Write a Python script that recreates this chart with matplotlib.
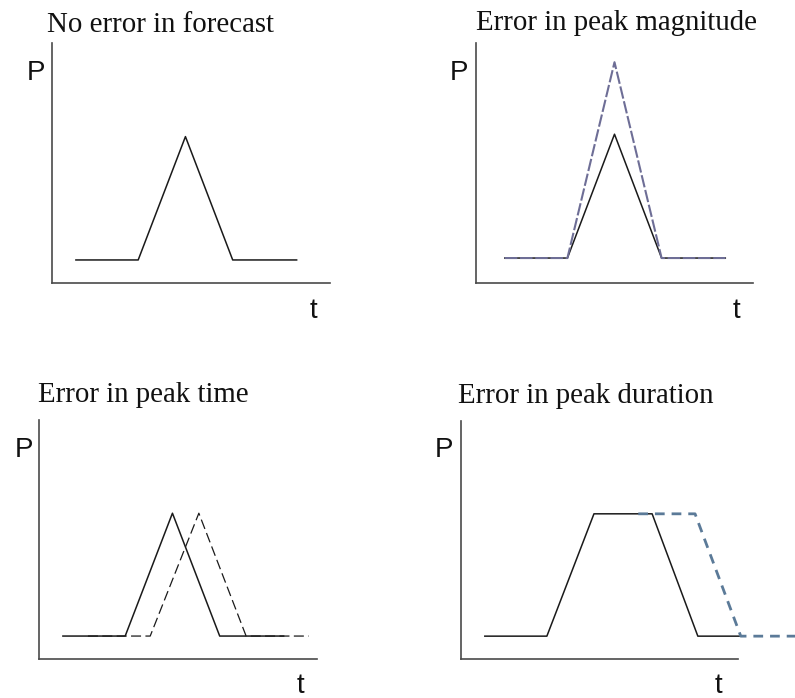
import matplotlib
matplotlib.use("Agg")
import matplotlib.pyplot as plt

# ---- data (arbitrary units, t and P) ----
titles = ["No error in forecast", "Error in peak magnitude",
          "Error in peak time", "Error in peak duration"]

# Panel 1: no error
t1 = [0.86, 3.1, 4.8, 6.5, 8.8]
p1 = [0.96, 0.96, 6.1, 0.96, 0.96]

# Panel 2: peak magnitude
t2 = [1.04, 3.3, 5.0, 6.7, 9.0]
p2_obs = [1.04, 1.04, 6.2, 1.04, 1.04]
p2_fc = [1.04, 1.04, 9.2, 1.04, 1.04]

# Panel 3: peak time
t3_obs = [0.86, 3.1, 4.8, 6.5, 8.8]
p3_obs = [0.96, 0.96, 6.1, 0.96, 0.96]
t3_fc = [1.76, 4.0, 5.75, 7.45, 9.7]
p3_fc = [0.96, 0.96, 6.1, 0.96, 0.96]

# Panel 4: peak duration
t4_obs = [0.86, 3.1, 4.8, 6.9, 8.55, 10.1]
p4_obs = [0.96, 0.96, 6.1, 6.1, 0.96, 0.96]
t4_fc = [6.4, 8.45, 10.1, 12.1]
p4_fc = [6.1, 6.1, 0.96, 0.96]

W, H = 795, 698
fig = plt.figure(figsize=(W / 100, H / 100), dpi=100)


def px_axes(left, bottom, w, h):
    return fig.add_axes([left / W, 1 - bottom / H, w / W, h / H])


def style(ax):
    ax.set_xlim(0, 10)
    ax.set_ylim(0, 10)
    for s in ["top", "right"]:
        ax.spines[s].set_visible(False)
    for s in ["left", "bottom"]:
        ax.spines[s].set_color("#4a4a4a")
        ax.spines[s].set_linewidth(1.2)
    ax.set_xticks([])
    ax.set_yticks([])
    ax.patch.set_alpha(0)


def ftext(x, y, s, **kw):
    fig.text(x / W, 1 - y / H, s, va="baseline", **kw)


serif = dict(family="Liberation Serif", fontsize=20.8, color="#111111")
sans = dict(family="Liberation Sans", fontsize=20, color="#111111")

# Panel 1
ax1 = px_axes(52, 283, 278, 240)
style(ax1)
ax1.plot(t1, p1, color="#1a1a1a", lw=1.1)
ftext(47, 32, titles[0], **serif)
ftext(27, 80, "P", **sans)
ftext(310, 318, "t", **sans)

# Panel 2
ax2 = px_axes(476, 283, 277, 240)
style(ax2)
ax2.plot(t2, p2_obs, color="#1a1a1a", lw=1.1)
ax2.plot(t2, p2_fc, color="#6e6e96", lw=1.5, dashes=(6, 1.3))
ftext(476, 30, titles[1], **serif)
ftext(450, 80, "P", **sans)
ftext(733, 318, "t", **sans)

# Panel 3
ax3 = px_axes(39, 659, 278, 239)
style(ax3)
ax3.plot(t3_obs, p3_obs, color="#1a1a1a", lw=1.1)
ax3.plot(t3_fc, p3_fc, color="#1a1a1a", lw=0.9, dashes=(8, 3.5))
ftext(38, 402, titles[2], **serif)
ftext(15, 457, "P", **sans)
ftext(297, 693, "t", **sans)

# Panel 4
ax4 = px_axes(461, 659, 277, 238)
style(ax4)
ax4.plot(t4_obs, p4_obs, color="#1a1a1a", lw=1.1, clip_on=False)
ax4.plot(t4_fc, p4_fc, color="#5b7a98", lw=2.0, dashes=(3.5, 2.5), clip_on=False)
ftext(458, 403, titles[3], **serif)
ftext(435, 457, "P", **sans)
ftext(715, 693, "t", **sans)

fig.savefig("out.png", dpi=100)
